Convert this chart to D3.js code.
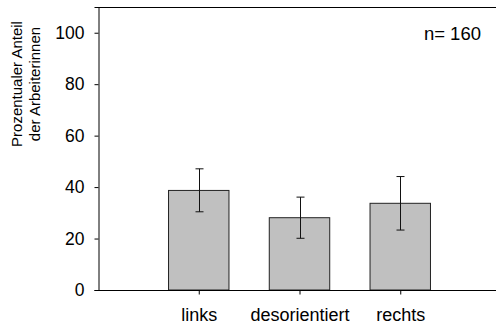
<!DOCTYPE html>
<html>
<head>
<meta charset="utf-8">
<script src="https://cdn.jsdelivr.net/npm/d3@7"></script>
<style>
  body { margin: 0; background: #fff; }
  text { font-family: Arial, "Liberation Sans", sans-serif; fill: #000; }
</style>
</head>
<body>
<svg id="chart" width="496" height="327"></svg>
<script>
// data
const categories = ["links", "desorientiert", "rechts"];
const positions = [1, 2, 3];
const values = [38.7, 28.1, 33.7];
const errLow = [30.4, 20.1, 23.3];
const errHigh = [47.1, 36.1, 44.1];
const yTicks = [0, 20, 40, 60, 80, 100];
const sampleNote = "n= 160";

const svg = d3.select("#chart");

const plotLeft = 98, plotTop = 7, plotBottom = 290, plotRight = 501;

const y = d3.scaleLinear().domain([0, 110]).range([plotBottom, plotTop]);
const x = d3.scaleLinear().domain([0, 4]).range([plotLeft, plotRight]);

// frame: top line
svg.append("line")
    .attr("x1", plotLeft).attr("x2", 496)
    .attr("y1", plotTop + 0.5).attr("y2", plotTop + 0.5)
    .attr("stroke", "#000");

// y axis
const yAxis = svg.append("g")
    .attr("transform", `translate(${plotLeft + 0.5},0)`)
    .call(d3.axisLeft(y).tickValues(yTicks).tickSize(4).tickPadding(10));
yAxis.select(".domain").attr("stroke", "#000");
yAxis.selectAll("text").style("font-size", "17.5px").attr("font-family", "Arial, 'Liberation Sans', sans-serif");

// bars
let barW = x(0.3) - x(-0.3);
for (let i in categories) {
    svg.append("rect")
        .attr("x", x(positions[i]) - barW / 2)
        .attr("y", y(values[i]))
        .attr("width", barW)
        .attr("height", y(0) - y(values[i]))
        .style("fill", "#c0c0c0")
        .style("stroke", "#222")
        .style("stroke-width", 1);
}

// x axis (baseline)
const xAxis = svg.append("g")
    .attr("transform", `translate(0,${plotBottom + 0.5})`)
    .call(d3.axisBottom(x).tickValues(positions).tickSize(4).tickPadding(14)
        .tickFormat((d, i) => categories[i]));
xAxis.select(".domain").attr("d", `M${plotLeft - 1},0H496`).attr("stroke", "#000");
xAxis.selectAll("text").style("font-size", "18px").attr("font-family", "Arial, 'Liberation Sans', sans-serif");

// error bars
const cap = 4;
for (let i in categories) {
    let cx = Math.round(x(positions[i])) + 0.5;
    let g = svg.append("g").attr("stroke", "#111").attr("stroke-width", 1);
    g.append("line").attr("x1", cx).attr("x2", cx).attr("y1", y(errHigh[i])).attr("y2", y(errLow[i]));
    g.append("line").attr("x1", cx - cap).attr("x2", cx + cap).attr("y1", y(errHigh[i])).attr("y2", y(errHigh[i]));
    g.append("line").attr("x1", cx - cap).attr("x2", cx + cap).attr("y1", y(errLow[i])).attr("y2", y(errLow[i]));
}

// y label, two lines
const yl = svg.append("text")
    .attr("transform", "translate(0,84) rotate(-90)")
    .attr("text-anchor", "middle")
    .style("font-size", "15px");
yl.append("tspan").attr("x", 0).attr("y", 22).text("Prozentualer Anteil");
yl.append("tspan").attr("x", 0).attr("y", 40).text("der Arbeiterinnen");

// sample size
svg.append("text")
    .attr("x", 481).attr("y", 40)
    .attr("text-anchor", "end")
    .style("font-size", "18.5px")
    .text(sampleNote);
</script>
</body>
</html>
